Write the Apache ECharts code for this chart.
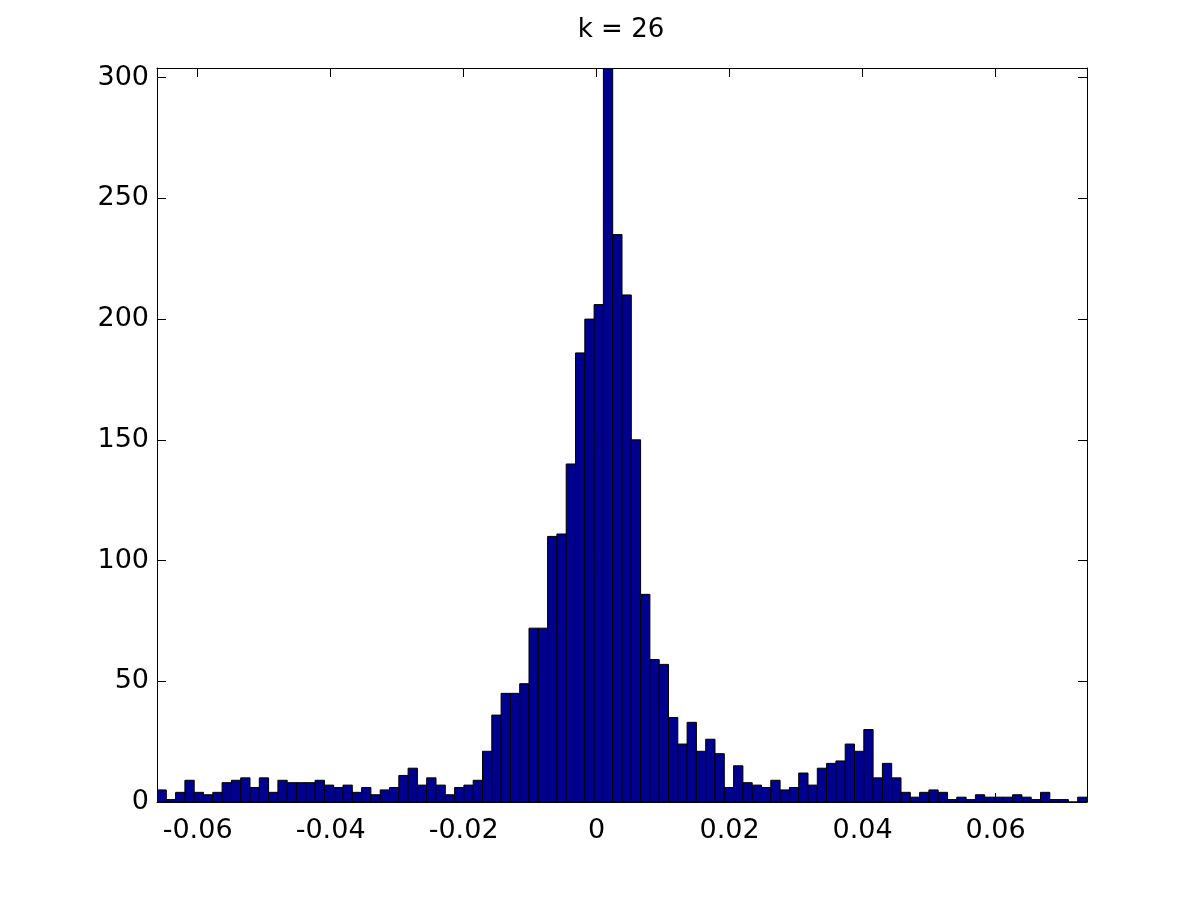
<!DOCTYPE html>
<html>
<head>
<meta charset="utf-8">
<script src="https://cdn.jsdelivr.net/npm/echarts@6/dist/echarts.min.js"></script>
<style>
html, body { margin: 0; padding: 0; background: #fff; }
#chart { width: 1200px; height: 900px; }
</style>
</head>
<body>
<div id="chart"></div>
<script>
// histogram, 100 bins
var xMin = -0.06611;
var xMax = 0.07374;
var binCount = 100;
var counts = [
  5, 1, 4, 9, 4, 3, 4, 8, 9, 10,
  6, 10, 4, 9, 8, 8, 8, 9, 7, 6,
  7, 4, 6, 3, 5, 6, 11, 14, 7, 10,
  7, 3, 6, 7, 9, 21, 36, 45, 45, 49,
  72, 72, 110, 111, 140, 186, 200, 206, 304, 235,
  210, 150, 86, 59, 57, 35, 24, 33, 21, 26,
  20, 6, 15, 8, 7, 6, 9, 5, 6, 12,
  7, 14, 16, 17, 24, 21, 30, 10, 16, 10,
  4, 2, 4, 5, 4, 1, 2, 1, 3, 2,
  2, 2, 3, 2, 1, 4, 1, 1, 0, 2
];
var xTicks = [-0.06, -0.04, -0.02, 0, 0.02, 0.04, 0.06];
var yTicks = [0, 50, 100, 150, 200, 250, 300];
var yMax = 304;
var titleText = 'k = 26';

var binWidth = (xMax - xMin) / binCount;
var binData = counts.map(function (c, i) {
  return [xMin + i * binWidth, xMin + (i + 1) * binWidth, c];
});

var font = 'DejaVu Sans';
var lbl = { color: '#000', fontFamily: font, fontSize: 27 };

function xAx(pos, show) {
  return {
    type: 'value', position: pos, min: xMin, max: xMax,
    axisLine: { show: true, onZero: false, lineStyle: { color: '#000', width: 1 } },
    axisTick: { show: true, inside: true, length: 9, customValues: xTicks, lineStyle: { color: '#000' } },
    axisLabel: Object.assign({ show: show, margin: 15, customValues: xTicks,
      formatter: function (v) { return String(Math.round(v * 100) / 100); } }, lbl),
    splitLine: { show: false }
  };
}
function yAx(pos, show) {
  return {
    type: 'value', position: pos, min: 0, max: yMax, interval: 50,
    axisLine: { show: true, onZero: false, lineStyle: { color: '#000', width: 1 } },
    axisTick: { show: true, inside: true, length: 9, customValues: yTicks, lineStyle: { color: '#000' } },
    axisLabel: Object.assign({ show: show, margin: 8, customValues: yTicks }, lbl),
    splitLine: { show: false }
  };
}

var chart = echarts.init(document.getElementById('chart'));
chart.setOption({
  animation: false,
  backgroundColor: '#fff',
  title: {
    text: titleText, left: 616, top: 12, textAlign: 'center',
    textStyle: { color: '#000', fontFamily: font, fontSize: 26, fontWeight: 'normal' }
  },
  grid: { left: 157, right: 113, top: 68, bottom: 98 },
  xAxis: [xAx('bottom', true), xAx('top', false)],
  yAxis: [yAx('left', true), yAx('right', false)],
  series: [{
    type: 'custom',
    xAxisIndex: 0, yAxisIndex: 0,
    data: binData,
    clip: true,
    renderItem: function (params, api) {
      var p0 = api.coord([api.value(0), api.value(2)]);
      var p1 = api.coord([api.value(1), 0]);
      return {
        type: 'rect',
        shape: { x: p0[0], y: p0[1], width: p1[0] - p0[0], height: p1[1] - p0[1] },
        style: { fill: '#00008f', stroke: '#000', lineWidth: 1 }
      };
    }
  }]
});
</script>
</body>
</html>
